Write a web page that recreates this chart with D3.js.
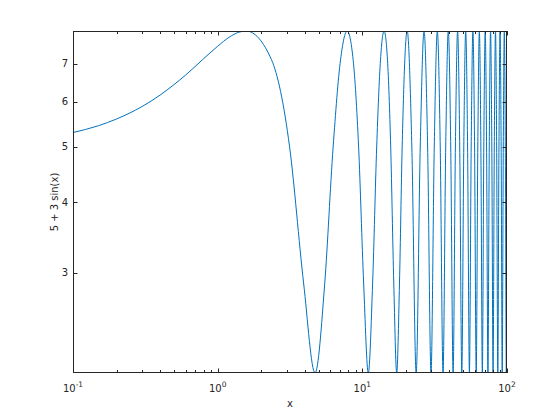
<!DOCTYPE html>
<html><head><meta charset="utf-8">
<script src="https://cdn.jsdelivr.net/npm/d3@7"></script>
<style>body{margin:0;background:#fff;} text{font-family:"DejaVu Sans",sans-serif;fill:#262626;}</style>
</head><body>
<svg id="c" width="560" height="420"></svg>
<script>
// Data (x, y samples of the curve)
const xValues = [0.1,0.15,0.2,0.3,0.4,0.5,0.6,0.785,1.0,1.2,1.4,1.571,
  2.356,3.142,3.927,4.712,5.498,6.283,7.069,7.854,8.639,9.425,10.210,10.996,11.781,12.566,13.352,14.137,14.923,15.708,16.493,17.279,18.064,18.850,
  20.420,21.991,23.562,25.133,26.704,28.274,29.845,31.416,32.987,34.558,36.128,37.699,39.270,40.841,42.412,43.982,45.553,47.124,48.695,50.265,
  51.836,53.407,54.978,56.549,58.119,59.690,61.261,62.832,64.403,65.973,67.544,69.115,70.686,72.257,73.827,75.398,76.969,78.540,80.111,81.681,
  83.252,84.823,86.394,87.965,89.535,91.106,92.677,94.248,95.819,97.389,98.960,100];
const yValues = [5.30,5.45,5.60,5.89,6.17,6.44,6.69,7.12,7.52,7.80,7.96,8.0,
  7.12,5,2.88,2,2.88,5,7.12,8,7.12,5,2.88,2,2.88,5,7.12,8,7.12,5,2.88,2,2.88,5,
  8,5,2,5,8,5,2,5,8,5,2,5,8,5,2,5,8,5,2,5,
  8,5,2,5,8,5,2,5,8,5,2,5,8,5,2,5,8,5,2,5,
  8,5,2,5,8,5,2,5,8,5,2,3.48];
const xTicks = [0.1,1,10,100];
const xTickExp = ["-1","0","1","2"];
const yTicks = [3,4,5,6,7];
const xDomain = [0.1,100];
const yDomain = [2,8];

const L=73,T=31,R=507,B=373;
const svg=d3.select("#c");
const x=d3.scaleLog().domain(xDomain).range([L,R]);
const y=d3.scaleLog().domain(yDomain).range([B,T]);
const col="#262626";

svg.append("defs").append("clipPath").attr("id","clip").append("rect")
  .attr("x",L).attr("y",T).attr("width",R-L).attr("height",B-T);

const data=xValues.map((v,i)=>[v,yValues[i]]);
svg.append("path").datum(data)
  .attr("clip-path","url(#clip)")
  .attr("fill","none").attr("stroke","#0072BD").attr("stroke-width",1)
  .attr("d",d3.line().x(d=>x(d[0])).y(d=>y(d[1])).curve(d3.curveMonotoneX));

// minor ticks
const minor=[];
[0.1,1,10].forEach(d=>{for(let k=2;k<=9;k++)minor.push(d*k);});
const g=svg.append("g");
minor.forEach(v=>{
  const px=Math.round(x(v))+0.5;
  g.append("line").attr("x1",px).attr("x2",px).attr("y1",B).attr("y2",B-3).attr("stroke",col);
  g.append("line").attr("x1",px).attr("x2",px).attr("y1",T).attr("y2",T+3).attr("stroke",col);
});
xTicks.forEach((v,i)=>{
  const px=Math.round(x(v))+0.5;
  g.append("line").attr("x1",px).attr("x2",px).attr("y1",B).attr("y2",B-4.5).attr("stroke",col);
  g.append("line").attr("x1",px).attr("x2",px).attr("y1",T).attr("y2",T+4.5).attr("stroke",col);
  const t=g.append("text").attr("x",x(v)).attr("y",392).attr("text-anchor","middle").attr("font-size",10);
  t.append("tspan").text("10");
  t.append("tspan").attr("dy",-5).attr("font-size",7.5).text(xTickExp[i]);
});
yTicks.forEach(v=>{
  const py=Math.round(y(v))+0.5;
  g.append("line").attr("x1",L).attr("x2",L+4.5).attr("y1",py).attr("y2",py).attr("stroke",col);
  g.append("line").attr("x1",R).attr("x2",R-4.5).attr("y1",py).attr("y2",py).attr("stroke",col);
  g.append("text").attr("x",L-5).attr("y",y(v)+3.5).attr("text-anchor","end").attr("font-size",10).text(v);
});
svg.append("rect").attr("x",L+0.5).attr("y",T+0.5).attr("width",R-L-1).attr("height",B-T-1)
  .attr("fill","none").attr("stroke",col).attr("stroke-width",1);

svg.append("text").attr("x",(L+R)/2).attr("y",407).attr("text-anchor","middle").attr("font-size",10).text("x");
svg.append("text").attr("transform",`translate(58,${(T+B)/2}) rotate(-90)`).attr("text-anchor","middle").attr("font-size",10).text("5 + 3 sin(x)");
</script>
</body></html>
